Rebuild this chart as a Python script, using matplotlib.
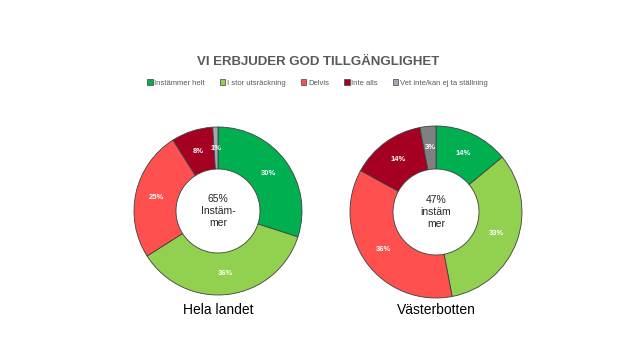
import numpy as np
import matplotlib.pyplot as plt
from matplotlib.patches import Patch

plt.rcParams['font.family'] = ['Liberation Sans', 'DejaVu Sans']

categories = ["Instämmer helt", "I stor utsräckning", "Delvis", "Inte alls", "Vet inte/kan ej ta ställning"]
hela_landet = [30, 36, 25, 8, 1]
vasterbotten = [14, 33, 36, 14, 3]
region_names = ["Hela landet", "Västerbotten"]
center_texts = ["65%\nInstäm-\nmer", "47%\ninstäm\nmer"]

colors = ["#00B050", "#92D050", "#FF5050", "#A50021", "#A6A6B4"]
colors_vb = ["#00B050", "#92D050", "#FF5050", "#A50021", "#808080"]

fig = plt.figure(figsize=(6.4, 3.6), dpi=100)
ax = fig.add_axes([0, 0, 1, 1])

# (values, colours, centre in pixels, outer radius)
setups = [
    (hela_landet, colors, (218, 149), 84),
    (vasterbotten, colors_vb, (436, 148), 86),
]

for i, (vals, cols, c, r) in enumerate(setups):
    wedges, texts = ax.pie(vals, colors=cols, startangle=90, counterclock=False,
                           center=c, radius=r, frame=True,
                           wedgeprops=dict(width=r * 0.5, edgecolor="#404040", linewidth=0.6))
    for w, v in zip(wedges, vals):
        ang = np.deg2rad((w.theta1 + w.theta2) / 2)
        rr = r * 0.75
        ax.text(c[0] + rr * np.cos(ang), c[1] + rr * np.sin(ang), "%d%%" % v,
                ha="center", va="center", color="white", fontsize=5.5, fontweight="bold")
    ax.text(c[0], c[1], center_texts[i], ha="center", va="center", fontsize=7.5,
            color="#262626", linespacing=1.3)
    ax.text(c[0], 50, region_names[i], ha="center", va="center", fontsize=10, color="black")

ax.set_xlim(0, 640)
ax.set_ylim(0, 360)
ax.set_aspect("equal")
ax.axis("off")

fig.text(0.497, 298 / 360, "VI ERBJUDER GOD TILLGÄNGLIGHET", ha="center", va="center",
         fontsize=9.5, fontweight="bold", color="#595959")

handles = [Patch(facecolor=cc, edgecolor="#404040", linewidth=0.5) for cc in colors]
fig.legend(handles, categories, loc="center", bbox_to_anchor=(0.496, 277 / 360), ncol=5,
           frameon=False, fontsize=5.5, handlelength=0.7, handleheight=0.7,
           handletextpad=0.2, columnspacing=2.0, labelcolor="#595959")

fig.savefig("out.png", dpi=100)
